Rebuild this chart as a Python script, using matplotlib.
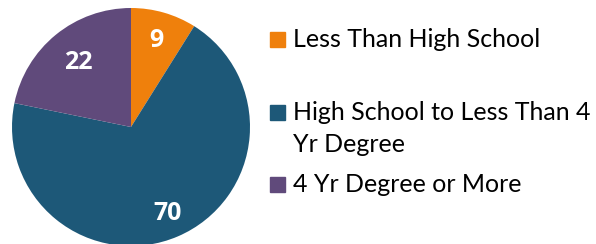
import numpy as np
import matplotlib.pyplot as plt

labels = ['Less Than High School', 'High School to Less Than 4\nYr Degree', '4 Yr Degree or More']
values = [9, 70, 22]
colors = ['#EF800C', '#1D5878', '#604A7B']
label_dist = [0.76, 0.79, 0.70]

plt.rcParams['font.family'] = ['Lato', 'DejaVu Sans']

fig = plt.figure(figsize=(5.96, 2.44), dpi=100)
W, H = 596, 244
cx, cy, r = 131, 127, 119
ax = fig.add_axes([(cx - r) / W, (H - cy - r) / H, 2 * r / W, 2 * r / H])

wedges, _ = ax.pie(values, colors=colors, startangle=90, counterclock=False,
                   radius=1, wedgeprops=dict(linewidth=0))
ax.set_xlim(-1, 1)
ax.set_ylim(-1, 1)
ax.set_aspect('equal')
ax.axis('off')

for w, v, d in zip(wedges, values, label_dist):
    ang = np.deg2rad((w.theta1 + w.theta2) / 2)
    ax.text(d * np.cos(ang), d * np.sin(ang), str(v), color='white',
            fontsize=18, fontweight='bold', family=['Open Sans', 'DejaVu Sans'],
            ha='center', va='center')

# legend, laid out by hand (baselines in px from top)
baselines = [47, 120, 192]
for lab, c, y in zip(labels, colors, baselines):
    fig.patches.append(plt.Rectangle((270 / W, 1 - y / H), 15 / W, 15 / H,
                                     transform=fig.transFigure, color=c))
    for i, line in enumerate(lab.split('\n')):
        fig.text(293 / W, 1 - (y + 32 * i) / H, line, fontsize=18,
                 va='baseline', ha='left', color='black')

fig.savefig('out.png', dpi=100)
